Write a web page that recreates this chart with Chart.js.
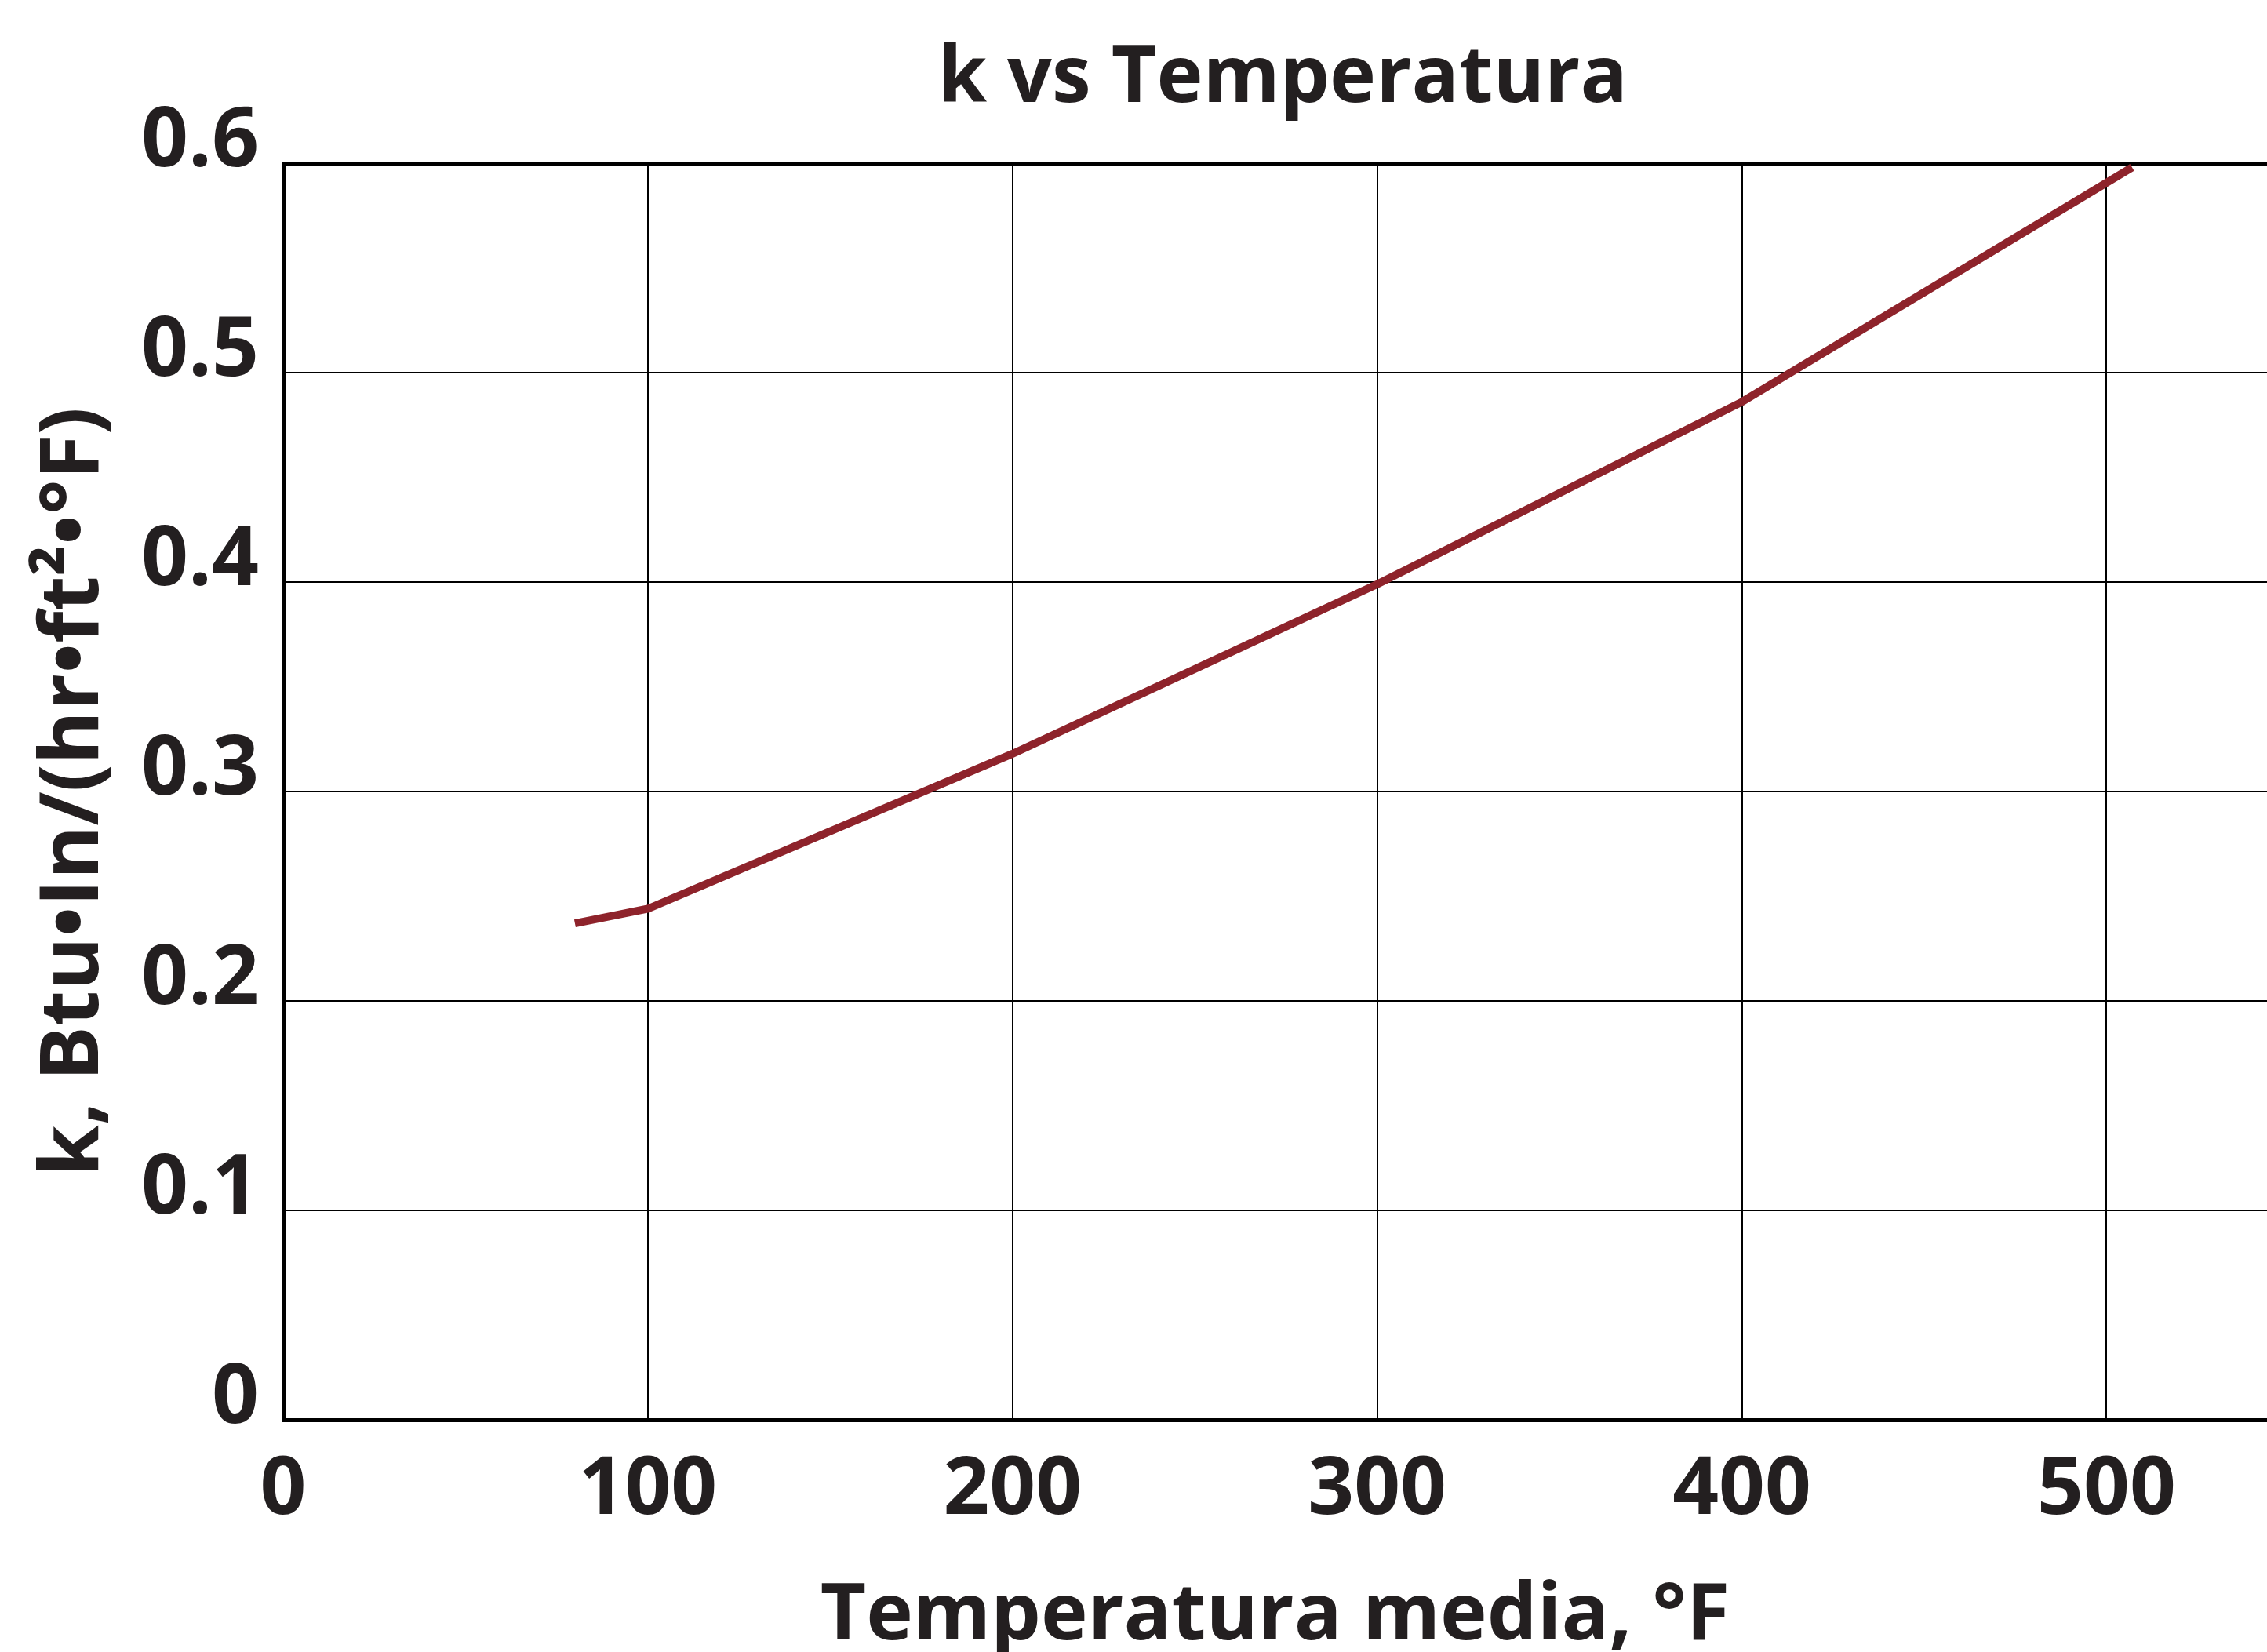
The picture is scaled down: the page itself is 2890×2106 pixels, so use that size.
<!DOCTYPE html>
<html><head><meta charset="utf-8">
<script src="https://cdn.jsdelivr.net/npm/chart.js@4/dist/chart.umd.min.js"></script>
<style>html,body{margin:0;padding:0;background:#fff;overflow:hidden}canvas{display:block}</style>
</head><body>
<canvas id="c" width="2890" height="2106" style="width:2890px;height:2106px"></canvas>
<script>
const chartTitle = 'k vs Temperatura';
const xAxisTitle = 'Temperatura media, °F';
const yAxisTitle = 'k, Btu•In/(hr•ft²•°F)';
const temperatures = [80, 100, 200, 300, 400, 507];
const kValues = [0.237, 0.244, 0.318, 0.399, 0.486, 0.598];
const xTickValues = [0, 100, 200, 300, 400, 500];
const yTickLabels = ['0', '0.1', '0.2', '0.3', '0.4', '0.5', '0.6'];
const xRange = [0, 544];
const yRange = [0, 0.6];

const textColor = '#231f20';
const fontFamily = "'Open Sans', 'DejaVu Sans', sans-serif";

const points = temperatures.map((t, i) => ({x: t, y: kValues[i]}));

const centerTitleOnPlot = {
  id: 'centerTitleOnPlot',
  afterLayout(chart) {
    const t = chart.titleBlock;
    if (t) {
      t.left = chart.chartArea.left + 20;
      t.right = chart.chartArea.right;
      t.width = t.right - t.left;
    }
  }
};

new Chart(document.getElementById('c'), {
  type: 'line',
  data: {
    datasets: [{
      label: 'k',
      data: points,
      borderColor: '#8e232b',
      backgroundColor: '#8e232b',
      borderWidth: 10,
      pointRadius: 0,
      tension: 0,
      fill: false
    }]
  },
  options: {
    responsive: false,
    devicePixelRatio: 1,
    animation: false,
    layout: {padding: 0},
    plugins: {
      legend: {display: false},
      tooltip: {enabled: false},
      title: {
        display: true,
        text: chartTitle,
        color: textColor,
        font: {family: fontFamily, size: 100, weight: 'bold', lineHeight: 1.2},
        padding: {top: 42, bottom: 46}
      }
    },
    scales: {
      x: {
        type: 'linear',
        min: xRange[0],
        max: xRange[1],
        afterFit(scale) { scale.height = 296; },
        afterBuildTicks(scale) { scale.ticks = xTickValues.map(v => ({value: v})); },
        ticks: {
          stepSize: 100,
          includeBounds: false,
          autoSkip: false,
          maxRotation: 0,
          padding: 29,
          color: textColor,
          font: {family: fontFamily, size: 103, weight: 'bold', lineHeight: 1.2},
          callback: (v) => String(v)
        },
        grid: {color: '#000', lineWidth: 2, drawTicks: false},
        border: {color: '#000', width: 5},
        title: {
          display: true,
          text: xAxisTitle,
          color: textColor,
          font: {family: fontFamily, size: 101, weight: 'bold', lineHeight: 0.88},
          padding: {top: 0, bottom: 0}
        }
      },
      y: {
        type: 'linear',
        min: yRange[0],
        max: yRange[1],
        afterFit(scale) { scale.width = 361; },
        ticks: {
          stepSize: 0.1,
          padding: 31,
          labelOffset: -26,
          color: textColor,
          font: {family: fontFamily, size: 105, weight: 'bold', lineHeight: 1.2},
          callback: (v, i) => yTickLabels[i]
        },
        grid: {
          color: '#000',
          drawTicks: false,
          lineWidth: (ctx) => (ctx.tick && Math.abs(ctx.tick.value - yRange[1]) < 1e-9) ? 5 : 2
        },
        border: {color: '#000', width: 5},
        title: {
          display: true,
          text: yAxisTitle,
          color: textColor,
          font: {family: fontFamily, size: 104, weight: 'bold', lineHeight: 1},
          padding: {top: 43, bottom: 0}
        }
      }
    }
  },
  plugins: [centerTitleOnPlot]
});
</script>
</body></html>
